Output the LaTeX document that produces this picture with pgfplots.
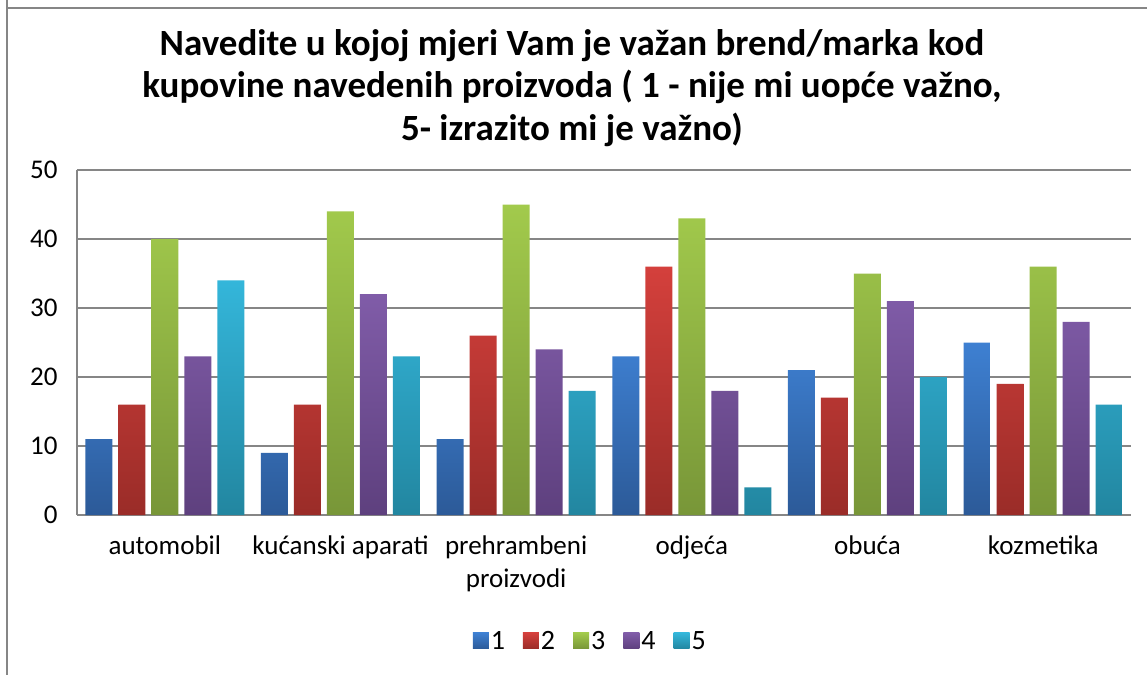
\documentclass[border=0pt]{standalone}
\usepackage{pgfplots}
\pgfplotsset{compat=1.18}
\usepackage{fontspec}
\setmainfont{Carlito}
\definecolor{b1t}{RGB}{62,128,210}\definecolor{b1b}{RGB}{44,90,152}
\definecolor{b2t}{RGB}{212,64,60}\definecolor{b2b}{RGB}{154,44,40}
\definecolor{b3t}{RGB}{162,202,76}\definecolor{b3b}{RGB}{120,150,56}
\definecolor{b4t}{RGB}{128,92,168}\definecolor{b4b}{RGB}{94,64,126}
\definecolor{b5t}{RGB}{52,182,218}\definecolor{b5b}{RGB}{34,134,160}
\definecolor{gridc}{RGB}{134,134,134}
\pgfplotsset{sqlegend/.style={legend image code/.code={\path[##1, draw=none] (0pt,-8pt) rectangle (16pt,8pt);}}}
\pgfplotstableread{
x s1 s2 s3 s4 s5
0 11 16 40 23 34
1 9 16 44 32 23
2 11 26 45 24 18
3 23 36 43 18 4
4 21 17 35 31 20
5 25 19 36 28 16
}\datatable
\begin{document}
\begin{tikzpicture}
\useasboundingbox (0pt,0pt) rectangle (1147pt,-675pt);
\fill[white] (0pt,0pt) rectangle (1147pt,-675pt);
\draw[gridc, line width=1.5pt] (7pt,0pt) -- (7pt,-675pt);
\draw[gridc, line width=1.5pt] (7pt,-8pt) -- (1147pt,-8pt);
\node[font=\bfseries\fontsize{37}{42.5}\selectfont, align=center] at (572pt,-88pt)
  {Navedite u kojoj mjeri Vam je važan brend/marka kod\\
   kupovine navedenih proizvoda ( 1 - nije mi uopće važno,\\
   5- izrazito mi je važno)};
\begin{axis}[
  at={(77pt,-515pt)}, anchor=south west,
  scale only axis, width=1054pt, height=345pt,
  ybar=6pt, bar width=27pt,
  every axis plot post/.append style={sqlegend},
  xmin=-0.5, xmax=5.5, ymin=0, ymax=50,
  ytick={0,10,...,50},
  xtick={0,...,5},
  xticklabels={automobil,kućanski aparati,{prehrambeni\\[1pt]proizvodi},odjeća,obuća,kozmetika},
  axis x line*=bottom, axis y line*=left,
  axis line style={gridc, line width=1.5pt},
  x axis line style={-}, y axis line style={-},
  ymajorgrids, grid style={gridc, line width=1.5pt},
  major tick style={draw=none}, major tick length=0pt,
  /pgf/number format/assume math mode=true,
  ticklabel style={font=\fontsize{27}{32.5}\selectfont, black},
  xticklabel style={align=center, yshift=-17pt},
  yticklabel style={xshift=-16pt},
  legend style={at={(0.487,-0.365)}, anchor=center, draw=none, fill=none,
    legend columns=5, font=\fontsize{28}{33}\selectfont,
    /tikz/every even column/.append style={column sep=16pt}},
]
\addplot[draw=none, top color=b1t, bottom color=b1b] table[x=x,y=s1]{\datatable};
\addplot[draw=none, top color=b2t, bottom color=b2b] table[x=x,y=s2]{\datatable};
\addplot[draw=none, top color=b3t, bottom color=b3b] table[x=x,y=s3]{\datatable};
\addplot[draw=none, top color=b4t, bottom color=b4b] table[x=x,y=s4]{\datatable};
\addplot[draw=none, top color=b5t, bottom color=b5b] table[x=x,y=s5]{\datatable};
\legend{1,2,3,4,5}
\end{axis}
\end{tikzpicture}
\end{document}
